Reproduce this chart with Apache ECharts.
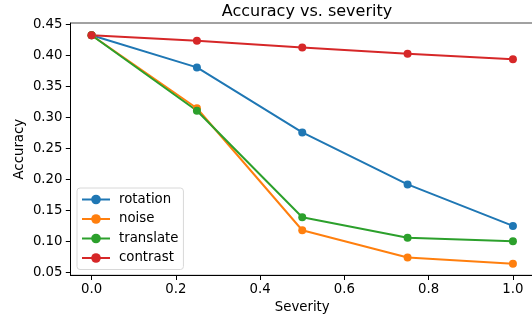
<!DOCTYPE html>
<html><head><meta charset="utf-8">
<script src="https://cdn.jsdelivr.net/npm/echarts@6/dist/echarts.min.js"></script>
<style>html,body{margin:0;padding:0;background:#fff}#c{width:532px;height:322px}</style>
</head><body><div id="c"></div>
<script>
const severity = [0, 0.25, 0.5, 0.75, 1.0];
const rotation = [0.433, 0.381, 0.276, 0.192, 0.125];
const noise = [0.433, 0.315, 0.118, 0.074, 0.064];
const translate = [0.433, 0.311, 0.139, 0.106, 0.100];
const contrast = [0.433, 0.424, 0.413, 0.403, 0.394];
const xTicks = [0, 0.2, 0.4, 0.6, 0.8, 1.0];
const yTicks = [0.05, 0.10, 0.15, 0.20, 0.25, 0.30, 0.35, 0.40, 0.45];
const names = ['rotation', 'noise', 'translate', 'contrast'];
const colors = ['#1f77b4', '#ff7f0e', '#2ca02c', '#d62728'];
const seriesVals = [rotation, noise, translate, contrast];

const font = 'DejaVu Sans';
const chart = echarts.init(document.getElementById('c'), null, {renderer: 'canvas'});
chart.setOption({
  animation: false,
  title: {text: 'Accuracy vs. severity', left: 302, top: -1, textAlign: 'center',
    textStyle: {fontFamily: font, fontSize: 16, fontWeight: 'normal', color: '#000'}},
  grid: {left: 70.5, top: 23, width: 463.5, height: 252.3, outerBoundsMode: 'none', containLabel: false,
    show: true, borderColor: '#444', borderWidth: 1, backgroundColor: 'transparent'},
  legend: {
    orient: 'vertical', left: 77, top: 188, data: names,
    itemWidth: 28, itemHeight: 12, itemGap: 6.5,
    padding: [5, 5, 5, 4],
    borderColor: '#d8d8d8', borderWidth: 1, borderRadius: 3, backgroundColor: 'rgba(255,255,255,0.8)',
    textStyle: {fontFamily: font, fontSize: 13.3, color: '#000', padding: [0, 0, 0, 4]}
  },
  xAxis: {
    type: 'value', min: -0.05, max: 1.05,
    name: 'Severity', nameLocation: 'middle', nameGap: 26, nameMoveOverlap: false,
    nameTextStyle: {fontFamily: font, fontSize: 13.3, color: '#000'},
    axisLine: {onZero: false, lineStyle: {color: '#000', width: 1}},
    axisTick: {show: true, inside: false, length: 4.7, customValues: xTicks, lineStyle: {color: '#000'}},
    axisLabel: {customValues: xTicks, fontFamily: font, fontSize: 13.3, color: '#000', margin: 8,
      formatter: v => v.toFixed(1)},
    splitLine: {show: false}
  },
  yAxis: {
    type: 'value', min: 0.0452, max: 0.4527,
    name: 'Accuracy', nameLocation: 'middle', nameGap: 44, nameRotate: 90, nameMoveOverlap: false,
    nameTextStyle: {fontFamily: font, fontSize: 13.3, color: '#000'},
    axisLine: {show: true, onZero: false, lineStyle: {color: '#000', width: 1}},
    axisTick: {show: true, inside: false, length: 4.7, customValues: yTicks, lineStyle: {color: '#000'}},
    axisLabel: {customValues: yTicks, fontFamily: font, fontSize: 13.3, color: '#000', margin: 8,
      formatter: v => v.toFixed(2)},
    splitLine: {show: false}
  },
  series: names.map((n, i) => ({
    name: n, type: 'line',
    data: severity.map((s, j) => [s, seriesVals[i][j]]),
    symbol: 'circle', symbolSize: 8, showSymbol: true,
    lineStyle: {color: colors[i], width: 2},
    itemStyle: {color: colors[i]},
    emphasis: {disabled: true}
  }))
});
</script></body></html>
